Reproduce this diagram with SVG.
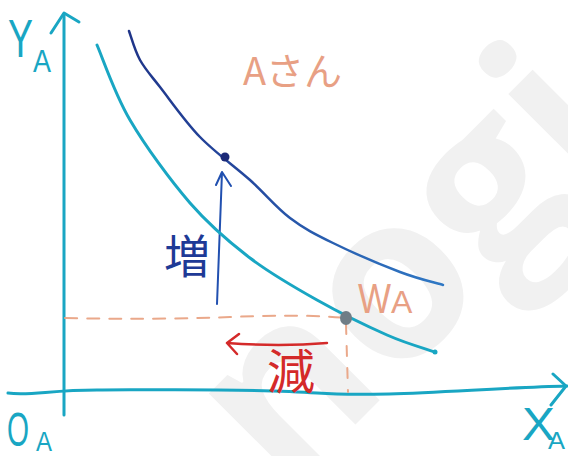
<svg xmlns="http://www.w3.org/2000/svg" width="568" height="456" viewBox="0 0 568 456">
<defs>
<linearGradient id="ublue" gradientUnits="userSpaceOnUse" x1="129" y1="31" x2="443" y2="285">
<stop offset="0" stop-color="#1f3488"/>
<stop offset="0.45" stop-color="#24489e"/>
<stop offset="1" stop-color="#2f78c4"/>
</linearGradient>
<style>
.teal{fill:none;stroke:#19a6c3;stroke-width:3;stroke-linecap:round;stroke-linejoin:round}
.lbl{font-family:"Liberation Sans","Noto Sans CJK JP",sans-serif;fill:#19a6c3}
.jp{font-family:"Noto Sans CJK JP","Liberation Sans",sans-serif}
.dash{fill:none;stroke:#eaa88a;stroke-width:2;stroke-linecap:round}
</style>
</defs>
<rect width="568" height="456" fill="#ffffff"/>
<g id="watermark">
<text transform="translate(285,495) rotate(-45)" font-family="'Open Sans',sans-serif" font-weight="bold" font-size="230" fill="#f1f1f1">nogi</text>
</g>
<g id="connectors">
<path class="teal" d="M64,415 L64,14"/>
<path class="teal" d="M51,33 L64,13 L79,22"/>
<path class="teal" d="M8,393 C30,396 50,390 97,390 S250,388 317,393 S480,388 567,386"/>
<path class="teal" d="M553,374 L566,386 L551,405"/>
<path class="dash" stroke-dasharray="12 10" d="M65,318 Q150,320 230,317 T345,318"/>
<path class="dash" stroke-dasharray="10 12" d="M346,324 L348,392"/>
<path fill="none" stroke="#2150b0" stroke-width="2" stroke-linecap="round" stroke-linejoin="round" d="M217,304 L222,172 M216,185 L222,172 L231,186"/>
<path fill="none" stroke="#d42a2a" stroke-width="2.5" stroke-linecap="round" stroke-linejoin="round" d="M327,343 Q280,347 227,343 M239,334 L227,343 L237,354"/>
</g>
<g id="curve-lower">
<path class="teal" d="M97,45 C102.5,57.5 114.5,93.7 130,120 C145.5,146.3 170,180 190,203 C210,226 228.8,241.8 250,258 C271.2,274.2 294.2,287.2 317,300 C339.8,312.8 367.3,326.3 387,335 C406.7,343.7 427,349.2 435,352"/>
<circle cx="435" cy="352" r="2.5" fill="#19a6c3"/>
</g>
<g id="curve-upper">
<path fill="none" stroke="url(#ublue)" stroke-width="2.5" stroke-linecap="round" d="M129,31 C130.8,35.8 134.8,50.7 140,60 C145.2,69.3 150,74.2 160,87 C170,99.8 185,121.5 200,137 C215,152.5 235,166.5 250,180 C265,193.5 276.2,207.5 290,218 C303.8,228.5 314.7,234 333,243 C351.3,252 381.7,265 400,272 C418.3,279 435.8,282.8 443,285"/>
</g>
<g id="point-new">
<circle cx="225" cy="157" r="4.5" fill="#1c2a78"/>
</g>
<g id="point-WA">
<ellipse cx="346" cy="318" rx="6" ry="7" fill="#6f7d86"/>
<text x="358" y="313" font-family="'Liberation Sans',sans-serif" fill="#e8a084"><tspan font-size="42" textLength="33" lengthAdjust="spacingAndGlyphs">W</tspan><tspan font-size="32">A</tspan></text>
</g>
<g id="labels">
<text class="jp" x="243" y="85" font-size="38" fill="#e8a084">Aさん</text>
<text class="jp" x="164" y="273" font-size="46" fill="#1e3a96">増</text>
<text class="jp" x="267" y="389" font-size="48" fill="#d42a2a">減</text>
<text class="lbl" x="8" y="57" font-size="54" textLength="25" lengthAdjust="spacingAndGlyphs">Y</text>
<text class="lbl" x="33" y="72" font-size="32" textLength="18" lengthAdjust="spacingAndGlyphs">A</text>
<text class="lbl" x="7" y="446" font-size="48" textLength="22" lengthAdjust="spacingAndGlyphs">O</text>
<text class="lbl" x="36" y="451" font-size="28" textLength="16" lengthAdjust="spacingAndGlyphs">A</text>
<text class="lbl" x="522" y="440" font-size="46" textLength="33" lengthAdjust="spacingAndGlyphs">X</text>
<text class="lbl" x="548" y="449" font-size="24" textLength="17" lengthAdjust="spacingAndGlyphs">A</text>
</g>
</svg>
